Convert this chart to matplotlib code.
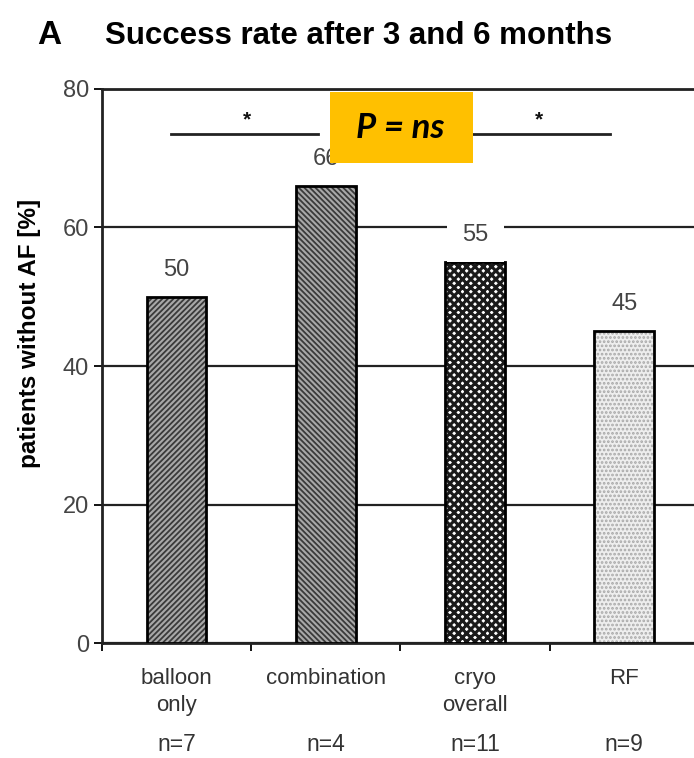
import matplotlib
matplotlib.use("Agg")
import matplotlib.pyplot as plt
from matplotlib.patches import Rectangle

categories = ["balloon\nonly", "combination", "cryo\noverall", "RF"]
counts = ["n=7", "n=4", "n=11", "n=9"]
values = [50, 66, 55, 45]
hatches = ["//////", "\\\\\\\\\\\\", "xxxx", "...."]
fills = ["#a8a8a8", "#a8a8a8", "#ffffff", "#eeeeee"]
hatch_cols = ["#3a3a3a", "#3a3a3a", "#1a1a1a", "#a8a8a8"]
hatch_lws = [1.3, 1.3, 2.2, 1.3]
# significance brackets: (start, end, star position) in category units
sig_lines = [(-0.04, 0.946, 0.473), (1.96, 2.905, 2.43)]
sig_level = 73.5

plt.rcParams['font.family'] = ['Liberation Sans', 'DejaVu Sans']

fig = plt.figure(figsize=(6.94, 7.58), dpi=100)
ax = fig.add_axes([0.147, 0.1517, 0.86, 0.7309])

x = list(range(len(values)))
for i in x:
    with plt.rc_context({'hatch.linewidth': hatch_lws[i]}):
        ax.bar(i, values[i], width=0.4, color=fills[i], edgecolor=hatch_cols[i],
               hatch=hatches[i], linewidth=0, zorder=3)
ax.bar(x, values, width=0.4, fill=False, edgecolor="black", linewidth=2, zorder=4)

for i in x:
    bb = dict(facecolor="white", edgecolor="none", pad=11) if i == 2 else None
    ax.text(i, values[i] + 2.3, str(values[i]), ha="center", va="bottom",
            fontsize=17, color="#444444", bbox=bb, zorder=5)

for a, b, s in sig_lines:
    ax.plot([a, b], [sig_level, sig_level], color="#222222", lw=2, zorder=3)
    ax.text(s, sig_level + 0.6, "*", ha="center", va="bottom",
            fontsize=15, color="#111111", fontweight="bold")

ax.set_xlim(-0.5, 3.5)
ax.set_ylim(0, 80)
ax.set_yticks([0, 20, 40, 60, 80])
ax.yaxis.grid(True, color="#222222", lw=1.6, zorder=0)
ax.tick_params(axis="y", labelsize=17, labelcolor="#444444", length=6, width=1.3)
ax.set_xticks([-0.5, 0.5, 1.5, 2.5, 3.5])
ax.set_xticklabels([])
ax.tick_params(axis="x", length=6, width=1.3)
for s in ax.spines.values():
    s.set_linewidth(2)
    s.set_color("#222222")

for i in x:
    ax.text(i, -3.6, categories[i], ha="center", va="top", fontsize=16,
            color="#333333", linespacing=1.4)
    ax.text(i, -14.7, counts[i], ha="center", va="center", fontsize=16.5,
            color="#333333")

fig.text(30 / 694, 1 - 333 / 758, "patients without AF [%]", rotation=90,
         fontsize=17.5, fontweight="bold", ha="center", va="center")

fig.text(0.053, 0.953, "A", fontsize=24, fontweight="bold", va="center")
fig.text(0.151, 0.953, "Success rate after 3 and 6 months", fontsize=22.5,
         fontweight="bold", va="center")

fig.add_artist(Rectangle((330 / 694, 1 - 163 / 758), 143 / 694, 71 / 758,
                         transform=fig.transFigure, facecolor="#FFC000",
                         edgecolor="none", zorder=10))
fig.text(400 / 694, 1 - 128 / 758, "P = ns", fontsize=25, fontweight="bold",
         style="italic", family=["Lato", "DejaVu Sans"], ha="center",
         va="center", zorder=11)

fig.savefig("out.png", dpi=100)
